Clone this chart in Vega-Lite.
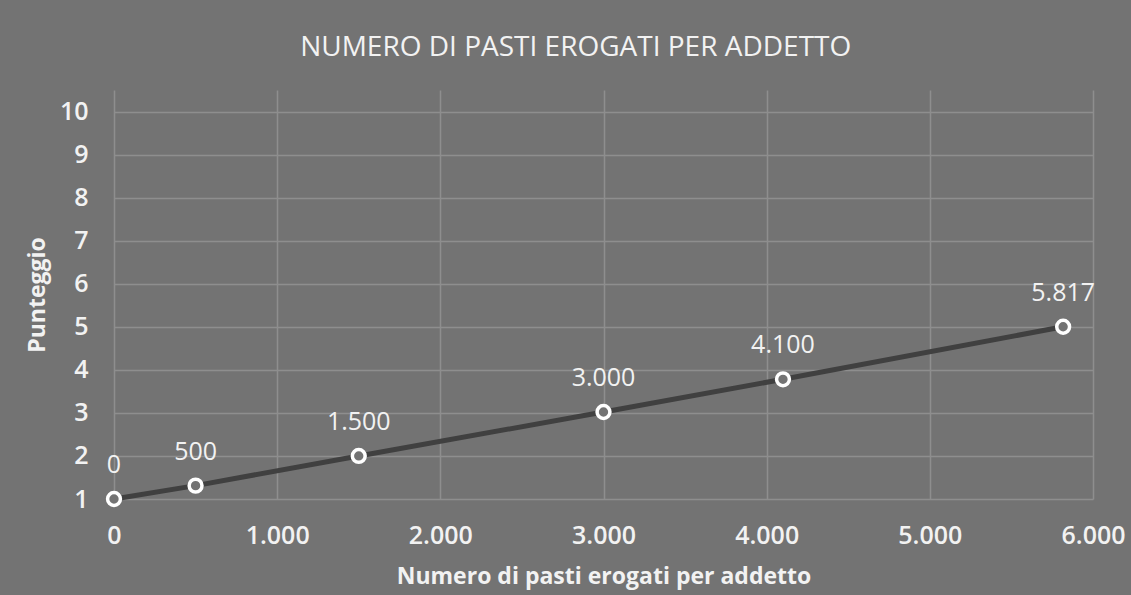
{
  "$schema": "https://vega.github.io/schema/vega-lite/v6.json",
  "autosize": {"type": "none"},
  "width": 979,
  "height": 409,
  "padding": {"left": 114, "top": 90, "right": 38, "bottom": 96},
  "background": "#737373",
  "title": {
    "text": "NUMERO DI PASTI EROGATI PER ADDETTO",
    "font": "Open Sans",
    "fontSize": 28,
    "fontWeight": "normal",
    "color": "#f2f2f2",
    "anchor": "middle",
    "frame": "bounds",
    "offset": 28
  },
  "config": {
    "view": {"stroke": null},
    "font": "Open Sans",
    "axis": {
      "gridColor": "#8e8e8e",
      "gridWidth": 1.5,
      "domain": false,
      "ticks": false,
      "tickSize": 0,
      "labelColor": "#f2f2f2",
      "labelFont": "Open Sans",
      "labelFontSize": 25,
      "labelFontWeight": 600,
      "titleColor": "#f2f2f2",
      "titleFont": "Open Sans",
      "titleFontSize": 23,
      "titleFontWeight": "bold"
    }
  },
  "data": {
    "values": [
      {"pasti": 0, "punteggio": 1.0, "label": "0"},
      {"pasti": 500, "punteggio": 1.31, "label": "500"},
      {"pasti": 1500, "punteggio": 2.0, "label": "1.500"},
      {"pasti": 3000, "punteggio": 3.02, "label": "3.000"},
      {"pasti": 4100, "punteggio": 3.78, "label": "4.100"},
      {"pasti": 5817, "punteggio": 5.0, "label": "5.817"}
    ]
  },
  "encoding": {
    "x": {
      "field": "pasti",
      "type": "quantitative",
      "scale": {"domain": [0, 6000], "nice": false, "zero": false},
      "axis": {
        "title": "Numero di pasti erogati per addetto",
        "values": [0, 1000, 2000, 3000, 4000, 5000, 6000],
        "labelExpr": "replace(format(datum.value, ',d'), ',', '.')",
        "labelPadding": 24,
        "titlePadding": 17,
        "labelFlush": false,
        "labelOverlap": false
      }
    },
    "y": {
      "field": "punteggio",
      "type": "quantitative",
      "scale": {"domain": [1, 10.5], "nice": false, "zero": false},
      "axis": {
        "title": "Punteggio",
        "values": [1, 2, 3, 4, 5, 6, 7, 8, 9, 10],
        "labelPadding": 26,
        "titlePadding": 10,
        "labelFlush": false,
        "labelOverlap": false
      }
    }
  },
  "layer": [
    {
      "mark": {"type": "line", "color": "#404040", "strokeWidth": 5}
    },
    {
      "mark": {"type": "point", "shape": "circle", "size": 165, "filled": false, "stroke": "#ffffff", "strokeWidth": 3.5, "fill": "#737373", "fillOpacity": 1, "opacity": 1}
    },
    {
      "mark": {"type": "text", "color": "#f2f2f2", "fontSize": 25, "font": "Open Sans", "baseline": "middle", "align": "center", "dy": -34},
      "encoding": {"text": {"field": "label"}}
    }
  ]
}
